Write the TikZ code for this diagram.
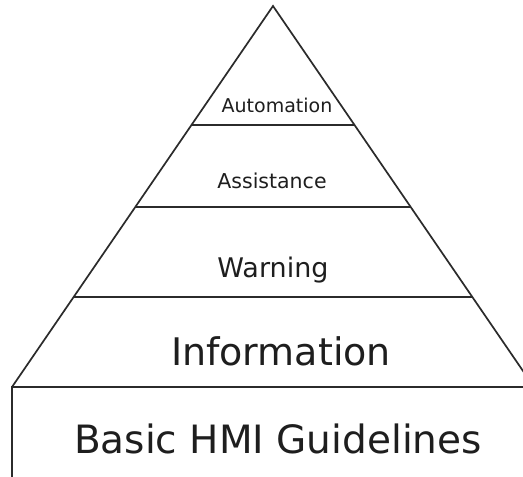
\documentclass[tikz,border=0pt]{standalone}
\usepackage{fontspec}
\setmainfont{DejaVu Sans}
\usetikzlibrary{calc}

\definecolor{edge}{HTML}{2B2B2B}
\definecolor{ink}{HTML}{1E1E1E}

\tikzset{
    level/.style={anchor=base, inner sep=0pt, text=ink},
    tier/.style={draw=edge, line width=1.7pt}
}

\begin{document}
\begin{tikzpicture}[x=1pt, y=-1pt]
            \clip (0,0) rectangle (523,477);
            \fill[white] (0,0) rectangle (523,477);

            \coordinate (apex) at (273,6);
            \coordinate (baseL) at (12,387);
            \coordinate (baseR) at (534,387);

            \coordinate (autoL) at ($(apex)!0.312!(baseL)$);
            \coordinate (autoR) at ($(apex)!0.312!(baseR)$);
            \coordinate (assiL) at ($(apex)!0.528!(baseL)$);
            \coordinate (assiR) at ($(apex)!0.528!(baseR)$);
            \coordinate (warnL) at ($(apex)!0.764!(baseL)$);
            \coordinate (warnR) at ($(apex)!0.764!(baseR)$);

            \node[level, font=\fontsize{19}{19}\selectfont] (auto) at (277,112) {Automation};
            \node[level, font=\fontsize{20.5}{20.5}\selectfont] (assi) at (272,188) {Assistance};
            \node[level, font=\fontsize{27}{27}\selectfont] (warn) at (273,277) {Warning};
            \node[level, font=\fontsize{38}{38}\selectfont] (info) at (281,365) {Information};
            \node[level, font=\fontsize{39}{39}\selectfont] (basic) at (278,453) {Basic HMI Guidelines};

            \draw[tier] (baseL) -- (apex) -- (baseR);
            \draw[tier] (autoL) -- (autoR);
            \draw[tier] (assiL) -- (assiR);
            \draw[tier] (warnL) -- (warnR);
            \draw[tier] (baseL) rectangle (540,495);
\end{tikzpicture}
\end{document}
